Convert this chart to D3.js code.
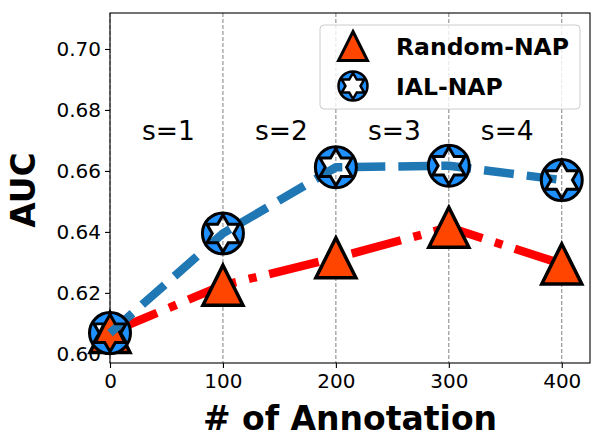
<!DOCTYPE html>
<html>
<head>
<meta charset="utf-8">
<script src="https://cdn.jsdelivr.net/npm/d3@7/dist/d3.min.js"></script>
<style>
  body { margin: 0; background: #fff; }
  text { font-family: "DejaVu Sans", sans-serif; }
</style>
</head>
<body>
<div class="canvas"></div>
<script>
// data
const annotations = [0, 100, 200, 300, 400];
const randomNAP = [0.607, 0.6225, 0.6315, 0.6415, 0.6295];
const ialNAP = [0.6068, 0.6395, 0.6612, 0.6617, 0.657];
const stageLabels = ['s=1', 's=2', 's=3', 's=4'];
const yTicks = [0.60, 0.62, 0.64, 0.66, 0.68, 0.70];
const seriesNames = ['Random-NAP', 'IAL-NAP'];

const dims = { width: 603, height: 447 };
const plot = { left: 110, right: 590, top: 13, bottom: 363 };

const svg = d3.select('.canvas')
    .append('svg')
    .attr('width', dims.width)
    .attr('height', dims.height);

const x = d3.scaleLinear().domain([0, 425]).range([plot.left, plot.right]);
const y = d3.scaleLinear().domain([0.597, 0.7118]).range([plot.bottom, plot.top]);

// vertical dashed grid
svg.append('g')
    .selectAll('line')
    .data(annotations)
    .join('line')
    .attr('x1', d => x(d)).attr('x2', d => x(d))
    .attr('y1', plot.top).attr('y2', plot.bottom)
    .attr('stroke', '#808080')
    .attr('stroke-width', 1)
    .attr('stroke-dasharray', '4,2');

// axes
const xAxis = svg.append('g')
    .attr('transform', `translate(0,${plot.bottom})`)
    .call(d3.axisBottom(x).tickValues(annotations).tickSize(5).tickPadding(6));
const yAxis = svg.append('g')
    .attr('transform', `translate(${plot.left},0)`)
    .call(d3.axisLeft(y).tickValues(yTicks).tickFormat(d3.format('.2f')).tickSize(5).tickPadding(4));

[xAxis, yAxis].forEach(g => {
    g.select('.domain').remove();
    g.selectAll('line').attr('stroke', '#000').attr('stroke-width', 1.1);
    g.selectAll('text').attr('font-size', 20).attr('fill', '#000')
        .style('font-family', '"DejaVu Sans", sans-serif');
});

// frame
svg.append('rect')
    .attr('x', plot.left).attr('y', plot.top)
    .attr('width', plot.right - plot.left).attr('height', plot.bottom - plot.top)
    .attr('fill', 'none').attr('stroke', '#000').attr('stroke-width', 1.1);

// stage labels between ticks
svg.append('g')
    .selectAll('text')
    .data(stageLabels)
    .join('text')
    .attr('x', (d, i) => x((annotations[i] + annotations[i + 1]) / 2) + 2)
    .attr('y', y(0.67))
    .attr('text-anchor', 'middle')
    .attr('font-size', 26.5)
    .text(d => d);

// axis titles
svg.append('text')
    .attr('x', (plot.left + plot.right) / 2)
    .attr('y', 430)
    .attr('text-anchor', 'middle')
    .attr('font-size', 33)
    .attr('font-weight', 'bold')
    .text('# of Annotation');

svg.append('text')
    .attr('transform', `translate(35,${(plot.top + plot.bottom) / 2 + 2}) rotate(-90)`)
    .attr('text-anchor', 'middle')
    .attr('font-size', 33)
    .attr('font-weight', 'bold')
    .text('AUC');

// marker shapes
const trianglePath = s => `M0,${-s}L${s},${s}L${-s},${s}Z`;
const hexStarCircle = (R, rs, ri) => {
    let p = `M${R},0A${R},${R} 0 1,1 ${-R},0A${R},${R} 0 1,1 ${R},0Z`;
    const pts = d3.range(12).map(k => {
        const a = -Math.PI / 2 + k * Math.PI / 6;
        const r = k % 2 === 0 ? rs : ri;
        return [r * Math.cos(a), r * Math.sin(a)];
    });
    p += 'M' + pts.map(q => q.join(',')).join('L') + 'Z';
    return p;
};

const line = d3.line()
    .x(d => x(d[0]))
    .y(d => y(d[1]));

// Random-NAP
svg.append('path')
    .datum(d3.zip(annotations, randomNAP))
    .attr('d', line)
    .attr('fill', 'none')
    .attr('stroke', '#ff0000')
    .attr('stroke-width', 8.5)
    .attr('stroke-linejoin', 'round')
    .attr('stroke-dasharray', '51,13,8,13');

svg.append('g')
    .selectAll('path')
    .data(d3.zip(annotations, randomNAP))
    .join('path')
    .attr('transform', d => `translate(${x(d[0])},${y(d[1])})`)
    .attr('d', trianglePath(20))
    .attr('fill', '#ff4500')
    .attr('stroke', '#000')
    .attr('stroke-width', 3.5)
    .attr('stroke-linejoin', 'miter');

// IAL-NAP
svg.append('path')
    .datum(d3.zip(annotations, ialNAP))
    .attr('d', line)
    .attr('fill', 'none')
    .attr('stroke', '#1f77b4')
    .attr('stroke-width', 8.5)
    .attr('stroke-linejoin', 'round')
    .attr('stroke-dasharray', '30,13');

svg.append('g')
    .selectAll('path')
    .data(d3.zip(annotations, ialNAP))
    .join('path')
    .attr('transform', d => `translate(${x(d[0])},${y(d[1])})`)
    .attr('d', hexStarCircle(20.5, 18.5, 10.7))
    .attr('fill', '#1e90ff')
    .attr('fill-rule', 'evenodd')
    .attr('stroke', '#000')
    .attr('stroke-width', 3);

// legend
const legend = svg.append('g');
legend.append('rect')
    .attr('x', 320).attr('y', 25)
    .attr('width', 260).attr('height', 84)
    .attr('rx', 4)
    .attr('fill', '#fff').attr('fill-opacity', 0.8)
    .attr('stroke', '#cccccc').attr('stroke-width', 1);

legend.append('path')
    .attr('transform', 'translate(353,46)')
    .attr('d', trianglePath(14.5))
    .attr('fill', '#ff4500').attr('stroke', '#000').attr('stroke-width', 3);
legend.append('path')
    .attr('transform', 'translate(353,86)')
    .attr('d', hexStarCircle(14.5, 13, 7.5))
    .attr('fill', '#1e90ff').attr('fill-rule', 'evenodd')
    .attr('stroke', '#000').attr('stroke-width', 2.5);

legend.selectAll('text.lbl')
    .data(seriesNames)
    .join('text')
    .attr('class', 'lbl')
    .attr('x', 396)
    .attr('y', (d, i) => 55 + i * 40)
    .attr('font-size', 23.5)
    .attr('font-weight', 'bold')
    .text(d => d);
</script>
</body>
</html>
